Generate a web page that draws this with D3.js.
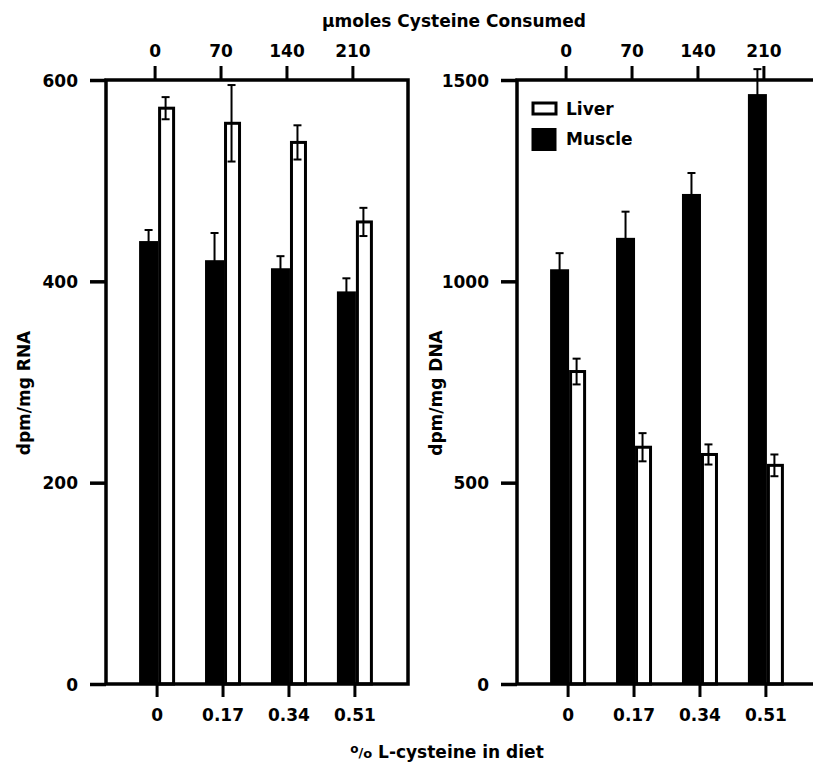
<!DOCTYPE html>
<html>
<head>
<meta charset="utf-8">
<script src="https://cdn.jsdelivr.net/npm/d3@7"></script>
<style>
  body { margin: 0; background: #fff; }
  svg text { font-family: "DejaVu Sans", "Liberation Sans", sans-serif; font-weight: bold; fill: #000; }
</style>
</head>
<body>
<div id="chart"></div>
<script>
// data
const dietLabels = ['0', '0.17', '0.34', '0.51'];        // % L-cysteine in diet
const consumedLabels = ['0', '70', '140', '210'];        // umoles cysteine consumed

const rnaMuscle = [440, 421, 413, 390];
const rnaMuscleErr = [11, 27, 12, 13];
const rnaLiver = [572, 557, 538, 459];
const rnaLiverErr = [11, 38, 17, 14];

const dnaMuscle = [1030, 1108, 1217, 1465];
const dnaMuscleErr = [40, 65, 52, 62];
const dnaLiver = [776, 588, 570, 543];
const dnaLiverErr = [32, 35, 25, 27];

const rnaTicks = [0, 200, 400, 600];
const dnaTicks = [0, 500, 1000, 1500];

const W = 813, H = 764;
const svg = d3.select('#chart').append('svg')
  .attr('width', W)
  .attr('height', H);

// one panel: frame, axes and the paired bars
function renderPanel(opts) {
  const top = 80, bottom = 684;
  const x = d3.scaleBand()
    .domain(dietLabels)
    .range([opts.left, opts.left + 302])
    .paddingInner(0)
    .paddingOuter(0.29);
  const xc = d => x(d) + x.bandwidth() / 2;
  const y = d3.scaleLinear().domain(opts.domain).range([bottom, top]);

  const g = svg.append('g');

  const rows = dietLabels.map((d, i) => ({
    cat: d,
    muscle: opts.muscle[i], muscleErr: opts.muscleErr[i],
    liver: opts.liver[i], liverErr: opts.liverErr[i]
  }));

  // muscle bars (black)
  g.append('g').selectAll('rect').data(rows).enter().append('rect')
    .attr('x', d => xc(d.cat) - 19)
    .attr('y', d => y(d.muscle))
    .attr('width', 19)
    .attr('height', d => y(0) - y(d.muscle))
    .attr('fill', '#000');

  // liver bars (open)
  g.append('g').selectAll('rect').data(rows).enter().append('rect')
    .attr('x', d => xc(d.cat) + 1.5)
    .attr('y', d => y(d.liver))
    .attr('width', 14)
    .attr('height', d => y(0) - y(d.liver))
    .attr('fill', '#fff')
    .attr('stroke', '#000')
    .attr('stroke-width', 3);

  // error bars
  const errs = [];
  rows.forEach(d => {
    errs.push({ cx: xc(d.cat) - 9.5, v: d.muscle, e: d.muscleErr });
    errs.push({ cx: xc(d.cat) + 7.5, v: d.liver, e: d.liverErr });
  });
  const eb = g.append('g').attr('stroke', '#000').attr('stroke-width', 2);
  eb.selectAll('.stem').data(errs).enter().append('line')
    .attr('x1', d => d.cx).attr('x2', d => d.cx)
    .attr('y1', d => y(d.v + d.e)).attr('y2', d => y(d.v - d.e));
  eb.selectAll('.capTop').data(errs).enter().append('line')
    .attr('x1', d => d.cx - 4).attr('x2', d => d.cx + 4)
    .attr('y1', d => y(d.v + d.e)).attr('y2', d => y(d.v + d.e));
  eb.selectAll('.capBot').data(errs).enter().append('line')
    .attr('x1', d => d.cx - 4).attr('x2', d => d.cx + 4)
    .attr('y1', d => y(d.v - d.e)).attr('y2', d => y(d.v - d.e));

  // frame
  g.append('rect')
    .attr('x', opts.left).attr('y', top)
    .attr('width', 302).attr('height', bottom - top)
    .attr('fill', 'none')
    .attr('stroke', '#000')
    .attr('stroke-width', 3.5);

  // left axis, ticks long enough to run out to the labels
  const yAxis = g.append('g')
    .attr('transform', `translate(${opts.left},0)`)
    .call(d3.axisLeft(y).tickValues(opts.ticks).tickFormat(d3.format('d')).tickSize(16).tickPadding(12));
  yAxis.select('.domain').remove();
  yAxis.selectAll('line').attr('stroke-width', 3.5);
  yAxis.selectAll('text').style('font-size', '17px').attr('dy', '0.36em');

  // bottom axis: % in diet
  const xAxis = g.append('g')
    .attr('transform', `translate(0,${bottom})`)
    .call(d3.axisBottom(x).tickSize(13).tickPadding(12).tickSizeOuter(0));
  xAxis.select('.domain').remove();
  xAxis.selectAll('.tick').attr('transform', d => `translate(${xc(d) - 1},0)`);
  xAxis.selectAll('line').attr('stroke-width', 3);
  xAxis.selectAll('text').style('font-size', '17px');

  // top axis: cysteine consumed
  const xTop = g.append('g')
    .attr('transform', `translate(0,${top})`)
    .call(d3.axisTop(x).tickFormat((d, i) => consumedLabels[i]).tickSize(14).tickPadding(9).tickSizeOuter(0));
  xTop.select('.domain').remove();
  xTop.selectAll('.tick').attr('transform', d => `translate(${xc(d) - 3},0)`);
  xTop.selectAll('line').attr('stroke-width', 3);
  xTop.selectAll('text').style('font-size', '17px');

  // y title
  g.append('text')
    .attr('transform', `translate(${opts.titleX},393) rotate(-90)`)
    .attr('text-anchor', 'middle')
    .attr('dy', '0.35em')
    .style('font-size', '17px')
    .text(opts.title);
}

renderPanel({
  left: 106, domain: [0, 600], ticks: rnaTicks,
  muscle: rnaMuscle, muscleErr: rnaMuscleErr, liver: rnaLiver, liverErr: rnaLiverErr,
  title: 'dpm/mg RNA', titleX: 24
});
renderPanel({
  left: 517, domain: [0, 1500], ticks: dnaTicks,
  muscle: dnaMuscle, muscleErr: dnaMuscleErr, liver: dnaLiver, liverErr: dnaLiverErr,
  title: 'dpm/mg DNA', titleX: 436
});

// legend
const legend = svg.append('g').attr('transform', 'translate(533,0)');
legend.append('rect')
  .attr('x', 0).attr('y', 103).attr('width', 23).attr('height', 11)
  .attr('fill', '#fff').attr('stroke', '#000').attr('stroke-width', 3);
legend.append('text').attr('x', 33).attr('y', 115).style('font-size', '17px').text('Liver');
legend.append('rect')
  .attr('x', -1.5).attr('y', 128).attr('width', 25).attr('height', 23)
  .attr('fill', '#000');
legend.append('text').attr('x', 33).attr('y', 145).style('font-size', '17px').text('Muscle');

// shared titles
svg.append('text')
  .attr('x', 454).attr('y', 27)
  .attr('text-anchor', 'middle')
  .style('font-size', '17px')
  .text('µmoles Cysteine Consumed');

const xt = svg.append('text')
  .attr('x', 447).attr('y', 758)
  .attr('text-anchor', 'middle')
  .style('font-size', '17px');
xt.append('tspan').attr('dy', '-5').style('font-size', '12px').text('o');
xt.append('tspan').attr('dy', '4').style('font-size', '13px').text('/');
xt.append('tspan').attr('dy', '1').style('font-size', '13px').text('o');
xt.append('tspan').text(' L-cysteine in diet');
</script>
</body>
</html>
